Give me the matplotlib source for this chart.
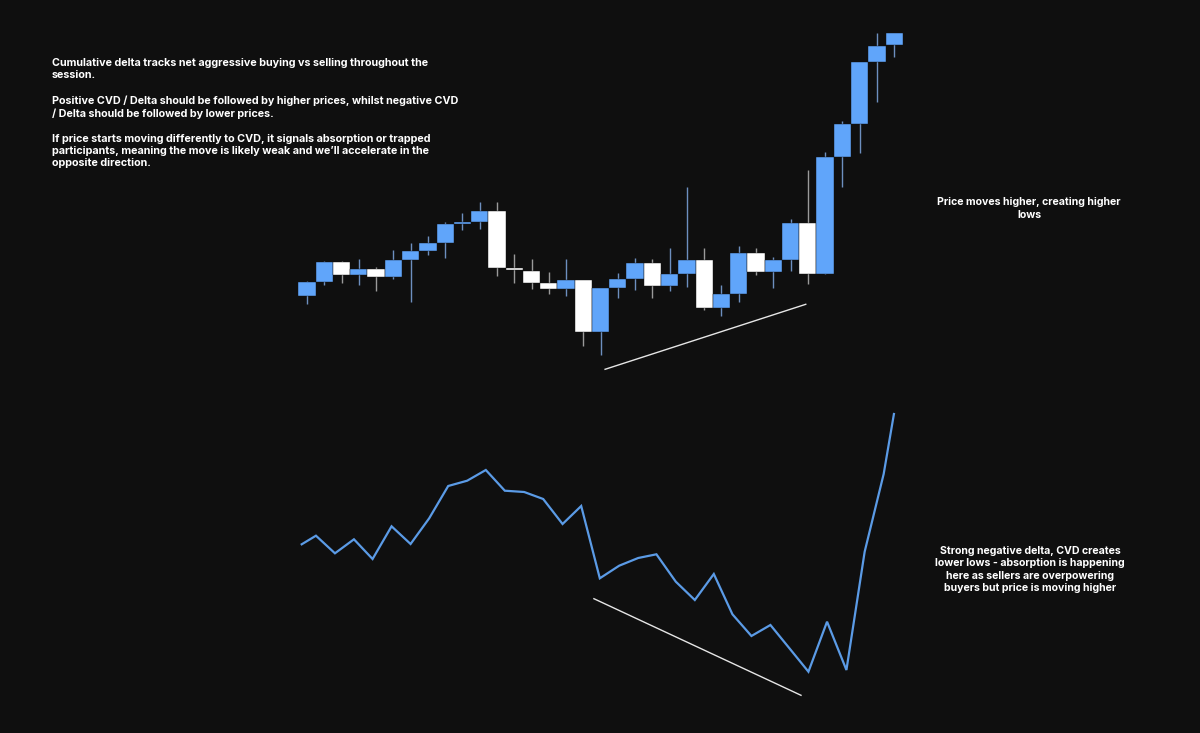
import matplotlib
matplotlib.use("Agg")
import matplotlib.pyplot as plt
import numpy as np

# ---------------- data ----------------
# candle OHLC (arbitrary price units)
opens  = [104, 117.7, 137.7, 125, 131.3, 123.3, 140.3, 149.3, 157.3, 176, 178.3, 189, 132, 129, 117,
          110.7, 120.5, 67.7, 111.7, 120.7, 137.3, 114, 125.7, 140, 92.3, 105.7, 146.7, 128, 140, 177.5,
          126.5, 242.7, 275.7, 337.7, 355]
closes = [117.7, 137.7, 125, 131.3, 123.3, 140.3, 149.3, 157.3, 176, 178.3, 189, 131.7, 129.7, 117.3, 110.7,
          120.5, 67.7, 111.7, 120.7, 137.3, 114, 125.7, 140, 92.3, 105.7, 146.7, 127.7, 140, 177.5, 126.5,
          242.7, 275.7, 337.7, 354.3, 366.7]
highs  = [119.3, 139.3, 139.3, 141, 132.7, 150, 156.7, 164.3, 178.3, 186.7, 198.3, 198.3, 146, 140.7, 128.3,
          140.7, 120.5, 111.7, 126.7, 141.7, 140.7, 151.7, 213.3, 151.7, 115, 154, 151.7, 143.5, 180.7, 230,
          247.7, 279, 337.7, 366.7, 366.7]
lows   = [96, 115, 117.3, 115, 109, 121.3, 98.3, 144.7, 142.3, 170, 171, 124, 117.3, 110.7, 105.7,
          104, 54.3, 45, 101.7, 110, 101.7, 109, 112.7, 90, 84, 98.3, 125, 111.7, 129.3, 116.5,
          126.5, 213.3, 246.7, 297.7, 343.3]

# cumulative volume delta
cvd_t = [0, 0.75, 1.75, 2.75, 3.73, 4.73, 5.73, 6.71, 7.71, 8.71, 9.69, 10.69, 11.71, 12.71, 13.73, 14.71,
         15.69, 16.71, 17.71, 18.67, 19.69, 20.69, 21.69, 22.67, 23.67, 24.67, 25.67, 26.67, 27.65, 28.67,
         29.63, 30.63, 31.17]
cvd = [155.7, 164.3, 146.7, 160.7, 141, 173.7, 156, 181.7, 214, 219.3, 230, 209.3, 208, 201, 176, 194,
       121.7, 134.3, 142, 145.7, 118.3, 100, 126, 85.7, 64, 75, 51.7, 28.3, 78.3, 30, 148.3, 226, 286]

# trend lines (start/end)
price_trend_x = [17.26, 28.88]
price_trend_y = [30.7, 95.7]
cvd_trend_x = [15.38, 26.28]
cvd_trend_y = [101.3, 4.7]

text_main = ("Cumulative delta tracks net aggressive buying vs selling throughout the\nsession.\n\n"
             "Positive CVD / Delta should be followed by higher prices, whilst negative CVD\n"
             "/ Delta should be followed by lower prices.\n\n"
             "If price starts moving differently to CVD, it signals absorption or trapped\n"
             "participants, meaning the move is likely weak and we\u2019ll accelerate in the\n"
             "opposite direction.")
text_price = "Price moves higher, creating higher\nlows"
text_cvd = ("Strong negative delta, CVD creates\nlower lows - absorption is happening\n"
            "here as sellers are overpowering\nbuyers but price is moving higher")

# ---------------- style ----------------
BG = "#0f0f0f"
BLUE = "#60a5fa"
WHITE = "#ffffff"
WICK_BLUE = "#6d8fbf"
WICK_WHITE = "#9a9a9a"
CVD_COLOR = "#5b9be6"

W, H = 1200, 733
fig = plt.figure(figsize=(W / 100, H / 100), dpi=100, facecolor=BG)

# price axes (full figure)
ax = fig.add_axes([0, 0, 1, 1])
ax.set_facecolor(BG)
sp = 17.27
x0 = 307
ax.set_xlim(-x0 / sp, (W - x0) / sp)
ax.set_ylim(-333, 400)
ax.axis("off")

idx = np.arange(len(opens))
o = np.array(opens); c = np.array(closes)
up = c >= o
cols = [BLUE if u else WHITE for u in up]
wcols = [WICK_BLUE if u else WICK_WHITE for u in up]
ax.vlines(idx, lows, highs, colors=wcols, linewidth=1.0, zorder=1)
bottoms = np.minimum(o, c)
heights = np.maximum(np.abs(c - o), 1.2)
ax.bar(idx, heights, bottom=bottoms, width=1.0, color=cols, edgecolor=BG, linewidth=0.3, zorder=2)
ax.plot(price_trend_x, price_trend_y, color="#e6e6e6", linewidth=1.0, zorder=3)

# CVD axes
ax2 = fig.add_axes([0, 0, 1, 1])
ax2.patch.set_alpha(0)
sp2 = 19.0
x02 = 301.7
ax2.set_xlim(-x02 / sp2, (W - x02) / sp2)
ax2.set_ylim(-33, 700)
ax2.axis("off")
ax2.plot(cvd_t, cvd, color=CVD_COLOR, linewidth=1.6, solid_joinstyle="miter")
ax2.plot(cvd_trend_x, cvd_trend_y, color="#e6e6e6", linewidth=1.0)

# texts
font = ["Inter", "DejaVu Sans"]
fig.text(52 / W, 1 - 58 / H, text_main, color="white", fontsize=7.75, fontweight="bold",
         family=font, ha="left", va="top", linespacing=1.3)
fig.text(1029 / W, 1 - 208.5 / H, text_price, color="white", fontsize=7.6, fontweight="bold",
         family=font, ha="center", va="center", linespacing=1.3)
fig.text(1030 / W, 1 - 569.5 / H, text_cvd, color="white", fontsize=7.6, fontweight="bold",
         family=font, ha="center", va="center", linespacing=1.3)

fig.savefig("out.png", dpi=100, facecolor=BG)
